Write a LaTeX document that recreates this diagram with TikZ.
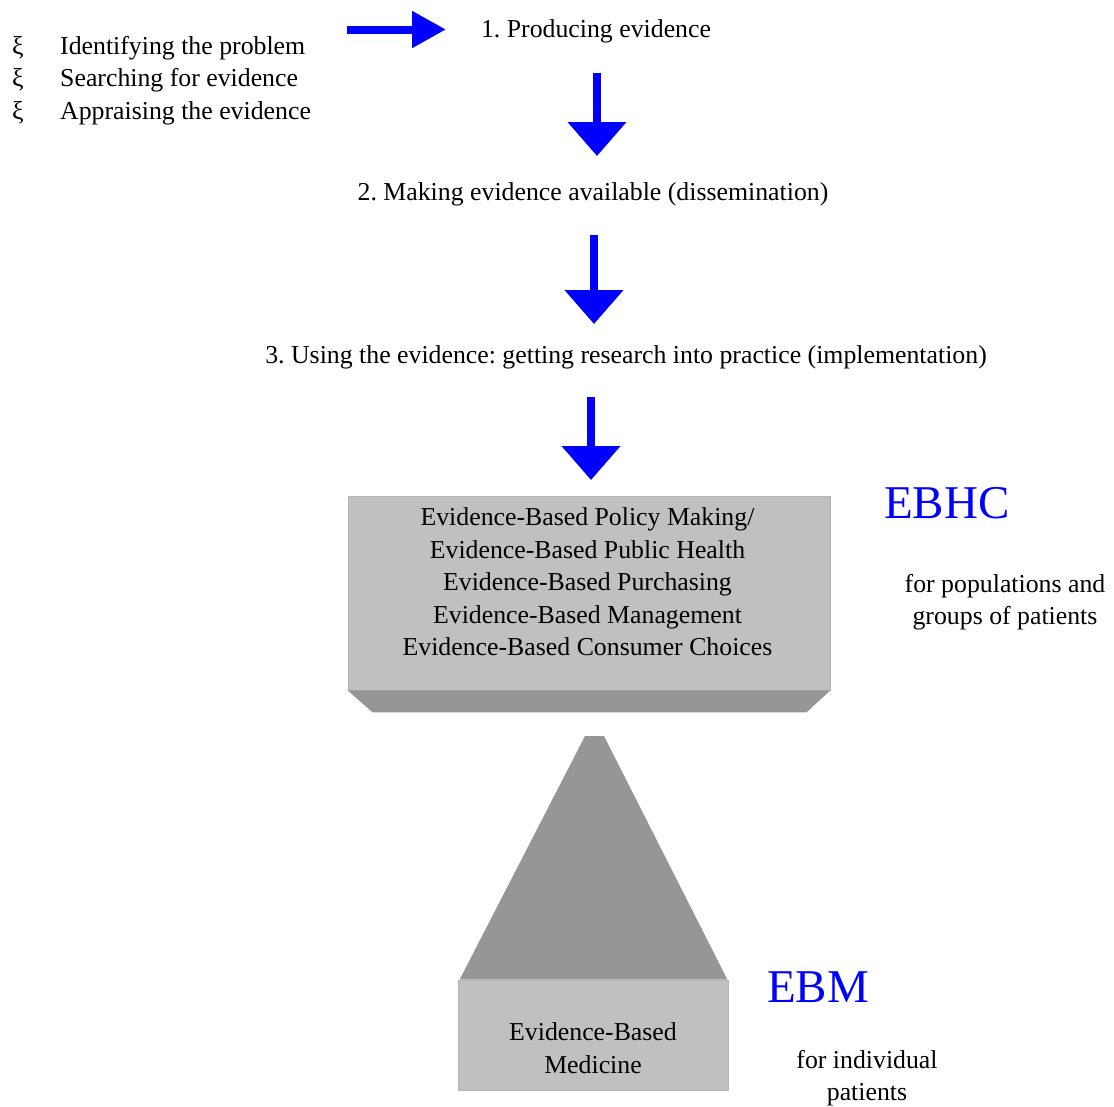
\documentclass[tikz,border=0pt]{standalone}
\usepackage{fontspec}
\setmainfont{Liberation Serif}
\usetikzlibrary{arrows.meta}
\definecolor{ebblue}{HTML}{0000FF}
\definecolor{boxgray}{HTML}{C0C0C0}
\definecolor{darkgray}{HTML}{969696}
\definecolor{edgegray}{HTML}{B4B4B4}
\begin{document}
\frenchspacing
\begin{tikzpicture}[x=1pt,y=-1pt,
  txt/.style={inner sep=0pt, font=\fontsize{25.8}{32.5}\selectfont, align=center},
  big/.style={inner sep=0pt, font=\fontsize{47}{50}\selectfont, text=ebblue},
  blockarrow/.style={draw=ebblue, line width=8pt,
    -{Triangle[width=#1, length=34pt, fill=ebblue]}},
  blockarrow/.default=57pt,
  slab/.style={fill=boxgray, draw=edgegray, line width=0.8pt},
  shade/.style={fill=darkgray, draw=none}]
\useasboundingbox (0,0) rectangle (1114,1106);

% left list of steps
\node[txt, anchor=north west, align=left] (marks) at (12,36)
  {ξ\\ξ\\ξ};
\node[txt, anchor=north west, align=left] (steps) at (60,36)
  {Identifying the problem\\Searching for evidence\\Appraising the evidence};

% the three stages
\node[txt] (p1) at (596,31) {1. Producing evidence};
\node[txt] (p2) at (593,194) {2. Making evidence available (dissemination)};
\node[txt] (p3) at (626,357) {3. Using the evidence: getting research into practice (implementation)};

% block arrows
\coordinate (a0s) at (347,29.5);
\coordinate (a0e) at (446,29.5);
\coordinate (a1s) at (597,73);
\coordinate (a1e) at (597,156);
\coordinate (a2s) at (594,235);
\coordinate (a2e) at (594,324);
\coordinate (a3s) at (591,397);
\coordinate (a3e) at (591,480);
\draw[blockarrow=35pt] (a0s) -- (a0e);
\draw[blockarrow] (a1s) -- (a1e);
\draw[blockarrow] (a2s) -- (a2e);
\draw[blockarrow] (a3s) -- (a3e);

% upper slab: evidence-based health care
\node[slab, minimum width=482pt, minimum height=194pt, inner sep=0pt] (hc) at (589,593) {};
\fill[shade] (hc.south west) -- (hc.south east) -- ([xshift=-24pt,yshift=-22pt]hc.south east)
  -- ([xshift=25pt,yshift=-22pt]hc.south west) -- cycle;
\node[txt] (hctext) at (587.5,582) {Evidence-Based Policy Making/\\Evidence-Based Public Health\\Evidence-Based Purchasing\\Evidence-Based Management\\Evidence-Based Consumer Choices};

% lower block: evidence-based medicine with its pyramid
\node[slab, minimum width=270pt, minimum height=110pt, inner sep=0pt] (bm) at (593,1035) {};
\fill[shade] ([xshift=2pt]bm.north west) -- ([xshift=-1pt]bm.north east)
  -- (604,736) -- (585,736) -- cycle;
\node[txt] (bmtext) at (593,1048) {Evidence-Based\\Medicine};

% labels on the right
\node[big, anchor=base west] (ebhc) at (884,518) {EBHC};
\node[txt] (pop) at (1005,602) {for populations and\\groups of patients};
\node[big, anchor=base west] (ebm) at (767,1002) {EBM};
\node[txt] (ind) at (867,1078) {for individual\\patients};
\end{tikzpicture}
\end{document}
